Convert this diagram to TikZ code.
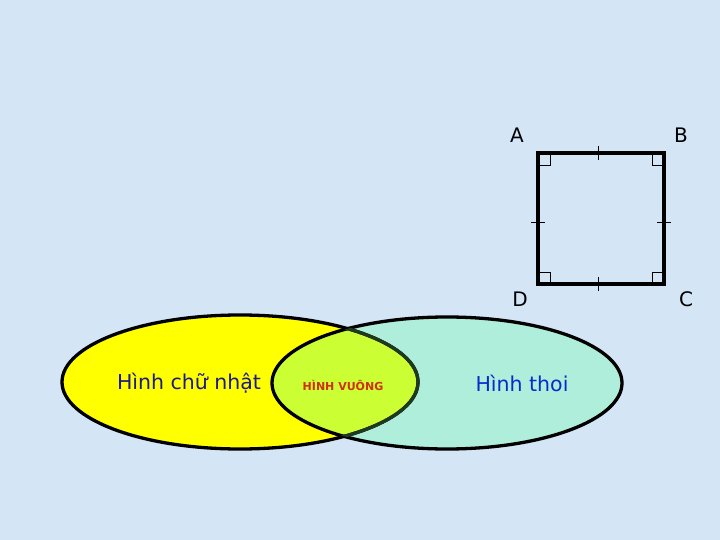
\documentclass[tikz,border=0pt]{standalone}
\usepackage{fontspec}
\setmainfont{DejaVu Sans}
\usetikzlibrary{shapes.geometric}
\definecolor{bgblue}{HTML}{D4E5F6}
\definecolor{ylw}{HTML}{FFFF00}
\definecolor{aqua}{HTML}{AEEEDA}
\definecolor{lens}{HTML}{CCFF33}
\definecolor{navytxt}{HTML}{1A1A8C}
\definecolor{bluetxt}{HTML}{0A2ACC}
\definecolor{redtxt}{HTML}{D03010}
\definecolor{darkgrn}{HTML}{1E3A1E}
\tikzset{
  setbox/.style={ellipse, draw=black, line width=3.3pt, inner sep=0pt},
  sqline/.style={line width=3.6pt, line join=miter},
  thin mark/.style={line width=0.8pt},
  vlabel/.style={font=\fontsize{20}{24}\selectfont, text=black, inner sep=0pt},
}
\begin{document}
\begin{tikzpicture}[x=1pt,y=-1pt]
\useasboundingbox (0,0) rectangle (720,540);
\fill[bgblue] (0,0) rectangle (720,540);
% ellipses
\fill[ylw] (240,382) ellipse [x radius=178, y radius=67];
\fill[aqua] (447,383) ellipse [x radius=175, y radius=66];
\begin{scope}
  \clip (240,382) ellipse [x radius=178, y radius=67];
  \fill[lens] (447,383) ellipse [x radius=175, y radius=66];
\end{scope}
\node[setbox, minimum width=356pt, minimum height=134pt] (rect) at (240,382) {};
\node[setbox, minimum width=350pt, minimum height=132pt] (rhombus) at (447,383) {};
\begin{scope}
  \clip (447,383) ellipse [x radius=175, y radius=66];
  \draw[darkgrn, line width=3.3pt] (240,382) ellipse [x radius=178, y radius=67];
\end{scope}
% texts
\node[text=navytxt, font=\fontsize{20.5}{24}\selectfont, inner sep=0pt] (t1) at (189,383) {Hình chữ nhật};
\node[text=redtxt, font=\bfseries\fontsize{11}{13}\selectfont, inner sep=0pt] (t2) at (343,385) {HÌNH VUÔNG};
\node[text=bluetxt, font=\fontsize{20.5}{24}\selectfont, inner sep=0pt] (t3) at (522,383) {Hình thoi};
% square
\coordinate (A) at (538,153);
\coordinate (B) at (664,153);
\coordinate (C) at (664,284);
\coordinate (D) at (538,284);
\draw[sqline] (A) -- (B) -- (C) -- (D) -- cycle;
% right-angle marks
\draw[thin mark] ([yshift=-12pt]A) -| ([xshift=12pt]A);
\draw[thin mark] ([yshift=-12pt]B) -| ([xshift=-12pt]B);
\draw[thin mark] ([yshift=12pt]C) -| ([xshift=-12pt]C);
\draw[thin mark] ([yshift=12pt]D) -| ([xshift=12pt]D);
% tick marks
\draw[thin mark] (598,146) -- (598,160);
\draw[thin mark] (598,277) -- (598,291);
\draw[thin mark] (531,222) -- (545,222);
\draw[thin mark] (657,222) -- (671,222);
% vertex labels
\node[vlabel] (lA) at (517,135) {A};
\node[vlabel] (lB) at (681,135) {B};
\node[vlabel] (lD) at (520,299) {D};
\node[vlabel] (lC) at (686,299) {C};
\end{tikzpicture}
\end{document}
